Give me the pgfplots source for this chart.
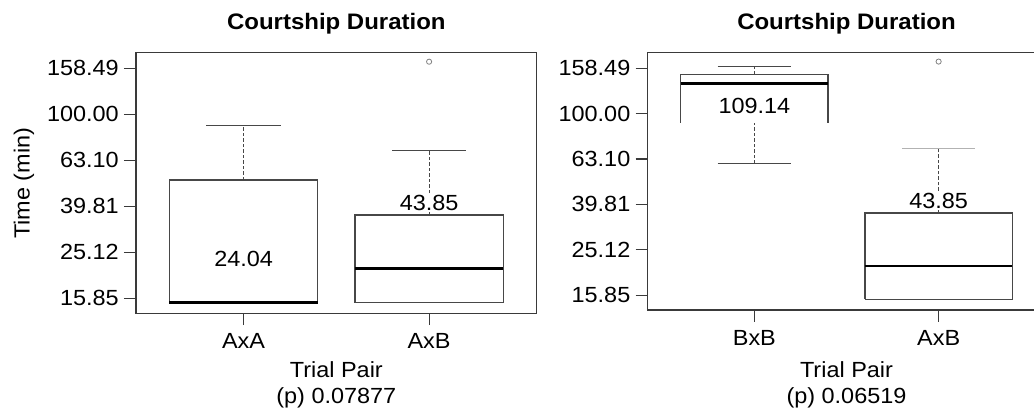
\documentclass[border=0pt]{standalone}
\usepackage{fontspec}
\setmainfont{Liberation Sans}[FakeStretch=1.07]
\usepackage{pgfplots}
\pgfplotsset{compat=1.18}

\definecolor{axframe}{HTML}{3A3A3A}
\definecolor{boxline}{HTML}{474747}

\tikzset{
  bxedge/.style={draw=boxline, line width=1.3bp},
  bxwhisk/.style={draw=boxline, line width=1.1bp, dash pattern=on 3.5bp off 2bp},
  bxcap/.style={draw=boxline, line width=1.2bp},
  bxmed/.style={draw=black, line width=#1},
  bxmed/.default=2.8bp,
  bxout/.style={only marks, mark=o, mark size=2.6bp, draw=gray, line width=0.8bp},
  bxlbl/.style={font=\fontsize{22}{26}\selectfont, fill=white, inner sep=1bp, anchor=north, yshift=3bp},
}

\pgfplotsset{
  every axis/.append style={
    scale only axis,
    ymode=log,
    ymin=13.65, ymax=186,
    xmin=0.42, xmax=2.58,
    xtick={1,2},
    ytick={15.85,25.12,39.81,63.10,100,158.49},
    yticklabels={15.85,25.12,39.81,63.10,100.00,158.49},
    yminorticks=false, xminorticks=false,
    tick align=outside,
    xtick pos=left, ytick pos=left,
    major tick length=12bp,
    axis line style={draw=axframe, line width=1.4bp},
    every tick/.style={draw=axframe, line width=1.1bp},
    /pgf/number format/assume math mode=true,
    tick label style={font=\fontsize{22}{26}\selectfont, text=black},
    yticklabel style={anchor=east, inner sep=0pt, xshift=-5bp},
    xticklabel style={anchor=north, inner sep=0pt, yshift=-8bp},
    title style={font=\bfseries\fontsize{22.5}{26}\selectfont, at={(0.5,1)}, anchor=base, yshift=17bp},
    xlabel style={font=\fontsize{22}{27}\selectfont, align=center, at={(0.5,0)}, anchor=north, inner sep=0pt},
  },
}

\begin{document}
\begin{tikzpicture}

% ---- left panel: AxA vs AxB ----
\begin{axis}[
  at={(136bp,-313.3bp)}, anchor=south west,
  width=400.7bp, height=261bp,
  xticklabels={AxA,AxB},
  title={Courtship Duration},
  xlabel={Trial Pair\\(p) 0.07877},
  xlabel style={yshift=-47.7bp},
]
  % AxA: q1 = median = 15.17, q3 = 51.8, upper whisker 89.5
  \addplot[bxwhisk] coordinates {(1,51.8) (1,89.5)};
  \addplot[bxcap] coordinates {(0.8,89.5) (1.2,89.5)};
  \addplot[bxedge] coordinates {(0.6,15.17) (1.4,15.17) (1.4,51.8) (0.6,51.8) (0.6,15.17)};
  \addplot[bxmed=3.2bp] coordinates {(0.6,15.17) (1.4,15.17)};
  \node[bxlbl, yshift=4bp] at (axis cs:1,24.04) {24.04};

  % AxB: q1 15.17, median 21.4, q3 36.5, upper whisker 69.7, outlier 169.3
  \addplot[bxwhisk] coordinates {(2,36.5) (2,69.7)};
  \addplot[bxcap] coordinates {(1.8,69.7) (2.2,69.7)};
  \addplot[bxedge] coordinates {(1.6,15.17) (2.4,15.17) (2.4,36.5) (1.6,36.5) (1.6,15.17)};
  \addplot[bxmed] coordinates {(1.6,21.4) (2.4,21.4)};
  \addplot[bxout] coordinates {(2,169.3)};
  \node[bxlbl, yshift=0bp] at (axis cs:2,43.85) {43.85};
\end{axis}
\draw[axframe, line width=1.4bp] (136bp,-313.3bp) rectangle (536.7bp,-52.3bp);

% ---- right panel: BxB vs AxB ----
\begin{axis}[
  at={(647.5bp,-310bp)}, anchor=south west,
  width=398bp, height=257.7bp,
  xticklabels={BxB,AxB},
  title={Courtship Duration},
  xlabel={Trial Pair\\(p) 0.06519},
  xlabel style={yshift=-51bp},
]
  % BxB: q1 90.9, median 135.5, q3 148.3, whiskers 60.2 .. 161
  \addplot[bxwhisk] coordinates {(1,60.2) (1,90.9)};
  \addplot[bxwhisk] coordinates {(1,148.3) (1,161)};
  \addplot[bxcap] coordinates {(0.8,60.2) (1.2,60.2)};
  \addplot[bxcap] coordinates {(0.8,161) (1.2,161)};
  \addplot[bxedge] coordinates {(0.6,90.9) (0.6,148.3) (1.4,148.3) (1.4,90.9)};
  \addplot[bxmed=2.6bp] coordinates {(0.6,135.5) (1.4,135.5)};
  \node[bxlbl, yshift=5bp] at (axis cs:1,109.14) {109.14};

  % AxB: q1 15.2, median 21.4, q3 36.5, upper whisker 70.3, outlier 169.3
  \addplot[bxwhisk] coordinates {(2,36.5) (2,70.3)};
  \addplot[bxcap, draw=gray!60, line width=0.8bp] coordinates {(1.8,70.3) (2.2,70.3)};
  \addplot[bxedge] coordinates {(1.6,15.2) (2.4,15.2) (2.4,36.5) (1.6,36.5) (1.6,15.2)};
  \addplot[bxmed=2bp] coordinates {(1.6,21.4) (2.4,21.4)};
  \addplot[bxout] coordinates {(2,169.3)};
  \node[bxlbl, yshift=0bp] at (axis cs:2,43.85) {43.85};
\end{axis}
\draw[axframe, line width=1.4bp] (647.5bp,-310bp) -- (647.5bp,-52.3bp) -- (1040bp,-52.3bp);

\node[rotate=90, anchor=base, font=\fontsize{22}{26}\selectfont] at (29.5bp,-183.3bp) {Time (min)};

\pgfresetboundingbox
\path[use as bounding box] (0bp,0bp) rectangle (1034bp,-415bp);
\end{tikzpicture}
\end{document}
